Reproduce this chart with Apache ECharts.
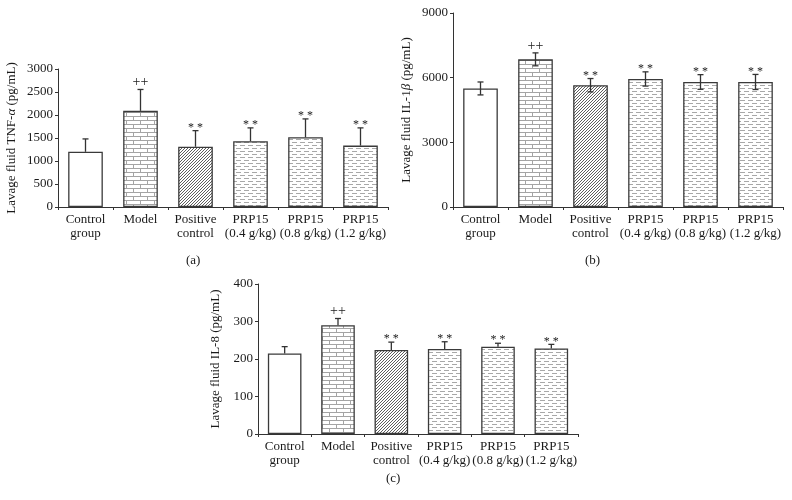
<!DOCTYPE html>
<html><head><meta charset="utf-8">
<script src="https://cdn.jsdelivr.net/npm/echarts@6/dist/echarts.min.js"></script>
<style>html,body{margin:0;padding:0;background:#fff}#c{width:792px;height:500px}</style>
</head><body><div id="c"></div>
<script>
// ---- data ----
const categories = ['Control\ngroup', 'Model', 'Positive\ncontrol', 'PRP15\n(0.4 g/kg)', 'PRP15\n(0.8 g/kg)', 'PRP15\n(1.2 g/kg)'];
const tnfMean = [1200, 2090, 1310, 1430, 1515, 1335];
const tnfErr  = [280, 465, 350, 290, 400, 385];
const il1bMean = [5500, 6850, 5650, 5940, 5800, 5800];
const il1bErr  = [300, 300, 310, 330, 340, 350];
const il8Mean = [215, 290, 224, 227, 233, 228];
const il8Err  = [18, 18, 21, 19, 9, 11];
const sigMarks = ['', '++', '**', '**', '**', '**'];
const tnfTicks = [0, 500, 1000, 1500, 2000, 2500, 3000];
const il1bTicks = [0, 3000, 6000, 9000];
const il8Ticks = [0, 100, 200, 300, 400];

// ---- patterns ----
function mk(w, h, draw) {
  const c = document.createElement('canvas'); c.width = w; c.height = h;
  const g = c.getContext('2d'); g.fillStyle = '#fff'; g.fillRect(0, 0, w, h);
  draw(g); return c;
}
const brick = mk(14, 8, g => {
  g.strokeStyle = '#a4a4a4'; g.lineWidth = 1; g.beginPath();
  g.moveTo(0, 0.5); g.lineTo(14, 0.5); g.moveTo(0, 4.5); g.lineTo(14, 4.5);
  g.moveTo(0.5, 0); g.lineTo(0.5, 4); g.moveTo(7.5, 4); g.lineTo(7.5, 8);
  g.stroke();
});
const hatch = mk(3, 3, g => {
  g.strokeStyle = '#5e5e5e'; g.lineWidth = 1; g.beginPath();
  g.moveTo(-1, 4); g.lineTo(4, -1); g.moveTo(-1, 1); g.lineTo(1, -1); g.moveTo(2, 4); g.lineTo(4, 2);
  g.stroke();
});
const dash = mk(8, 6, g => {
  g.strokeStyle = '#a8a8a8'; g.lineWidth = 1; g.beginPath();
  g.moveTo(0, 1.5); g.lineTo(5, 1.5);
  g.moveTo(4, 4.5); g.lineTo(8, 4.5); g.moveTo(0, 4.5); g.lineTo(1, 4.5);
  g.stroke();
});
const fills = ['#ffffff', {image: brick, repeat: 'repeat'}, {image: hatch, repeat: 'repeat'},
  {image: dash, repeat: 'repeat'}, {image: dash, repeat: 'repeat'}, {image: dash, repeat: 'repeat'}];

const FONT = '"Liberation Serif", "DejaVu Serif", serif';
const TXT = '#1a1a1a';
const AX = '#333';

function barSeries(idx, vals) {
  return {
    type: 'bar', xAxisIndex: idx, yAxisIndex: idx, barWidth: '63%',
    data: vals.map((v, i) => ({value: v, itemStyle: {color: fills[i], borderColor: '#3a3a3a', borderWidth: 1.3}})),
    animation: false, silent: true
  };
}
function errSeries(idx, vals, errs, twoSided) {
  return {
    type: 'custom', xAxisIndex: idx, yAxisIndex: idx, animation: false, silent: true, z: 5,
    data: vals.map((v, i) => [i, v, errs[i]]),
    renderItem: function (params, api) {
      const i = api.value(0), v = api.value(1), e = api.value(2);
      const top = api.coord([i, v + e]);
      const bot = api.coord([i, twoSided ? v - e : v]);
      const cw = 3;
      const ls = {stroke: '#333', lineWidth: 1.3};
      const ch = [
        {type: 'line', shape: {x1: top[0], y1: top[1], x2: bot[0], y2: bot[1]}, style: ls},
        {type: 'line', shape: {x1: top[0] - cw, y1: top[1], x2: top[0] + cw, y2: top[1]}, style: ls}
      ];
      if (twoSided) ch.push({type: 'line', shape: {x1: bot[0] - cw, y1: bot[1], x2: bot[0] + cw, y2: bot[1]}, style: ls});
      const s = sigMarks[params.dataIndex];
      if (s) {
        const isStar = s === '**';
        ch.push({type: 'text', style: {
          text: isStar ? '* *' : '++', x: top[0], y: top[1] + (isStar ? 3 : 0),
          textAlign: 'center', textVerticalAlign: 'bottom',
          font: (isStar ? '12px ' : '14px ') + FONT, fill: TXT
        }});
      }
      return {type: 'group', children: ch};
    }
  };
}
function xAx(idx) {
  return {
    type: 'category', gridIndex: idx, data: categories,
    axisLine: {lineStyle: {color: AX, width: 1}},
    axisTick: {show: true, length: 3, inside: false, lineStyle: {color: AX}},
    axisLabel: {color: TXT, fontFamily: FONT, fontSize: 13, margin: 6, lineHeight: 14, interval: 0},
    splitLine: {show: false}
  };
}
function yAx(idx, ticks, nameStr, gap) {
  return {
    type: 'value', gridIndex: idx, min: ticks[0], max: ticks[ticks.length - 1],
    interval: ticks[1] - ticks[0],
    name: nameStr, nameLocation: 'middle', nameRotate: 90, nameGap: gap,
    nameTextStyle: {color: TXT, fontFamily: FONT, fontSize: 13,
      rich: {i: {fontStyle: 'italic', fontFamily: FONT, fontSize: 13, color: TXT}}},
    axisLine: {show: true, lineStyle: {color: AX, width: 1}},
    axisTick: {show: true, length: 3, lineStyle: {color: AX}},
    axisLabel: {color: TXT, fontFamily: FONT, fontSize: 13, margin: 5, formatter: v => String(v)},
    splitLine: {show: false}
  };
}

const TS = {fontFamily: FONT, fontSize: 13, fontWeight: 'normal', color: TXT};
const chart = echarts.init(document.getElementById('c'), null, {renderer: 'canvas'});
chart.setOption({
  backgroundColor: '#fff',
  animation: false,
  grid: [
    {left: 58, top: 69, width: 330, height: 138},
    {left: 453, top: 13, width: 330, height: 194},
    {left: 258, top: 284, width: 320, height: 150}
  ],
  title: [
    {text: '(a)', left: 186, top: 254, padding: 0, textStyle: TS},
    {text: '(b)', left: 585, top: 254, padding: 0, textStyle: TS},
    {text: '(c)', left: 386, top: 472, padding: 0, textStyle: TS}
  ],
  xAxis: [xAx(0), xAx(1), xAx(2)],
  yAxis: [
    yAx(0, tnfTicks, 'Lavage fluid TNF-{i|α} (pg/mL)', 40),
    yAx(1, il1bTicks, 'Lavage fluid IL-1{i|β} (pg/mL)', 40),
    yAx(2, il8Ticks, 'Lavage fluid IL-8 (pg/mL)', 36)
  ],
  series: [
    barSeries(0, tnfMean), errSeries(0, tnfMean, tnfErr, false),
    barSeries(1, il1bMean), errSeries(1, il1bMean, il1bErr, true),
    barSeries(2, il8Mean), errSeries(2, il8Mean, il8Err, false)
  ]
});
</script></body></html>
